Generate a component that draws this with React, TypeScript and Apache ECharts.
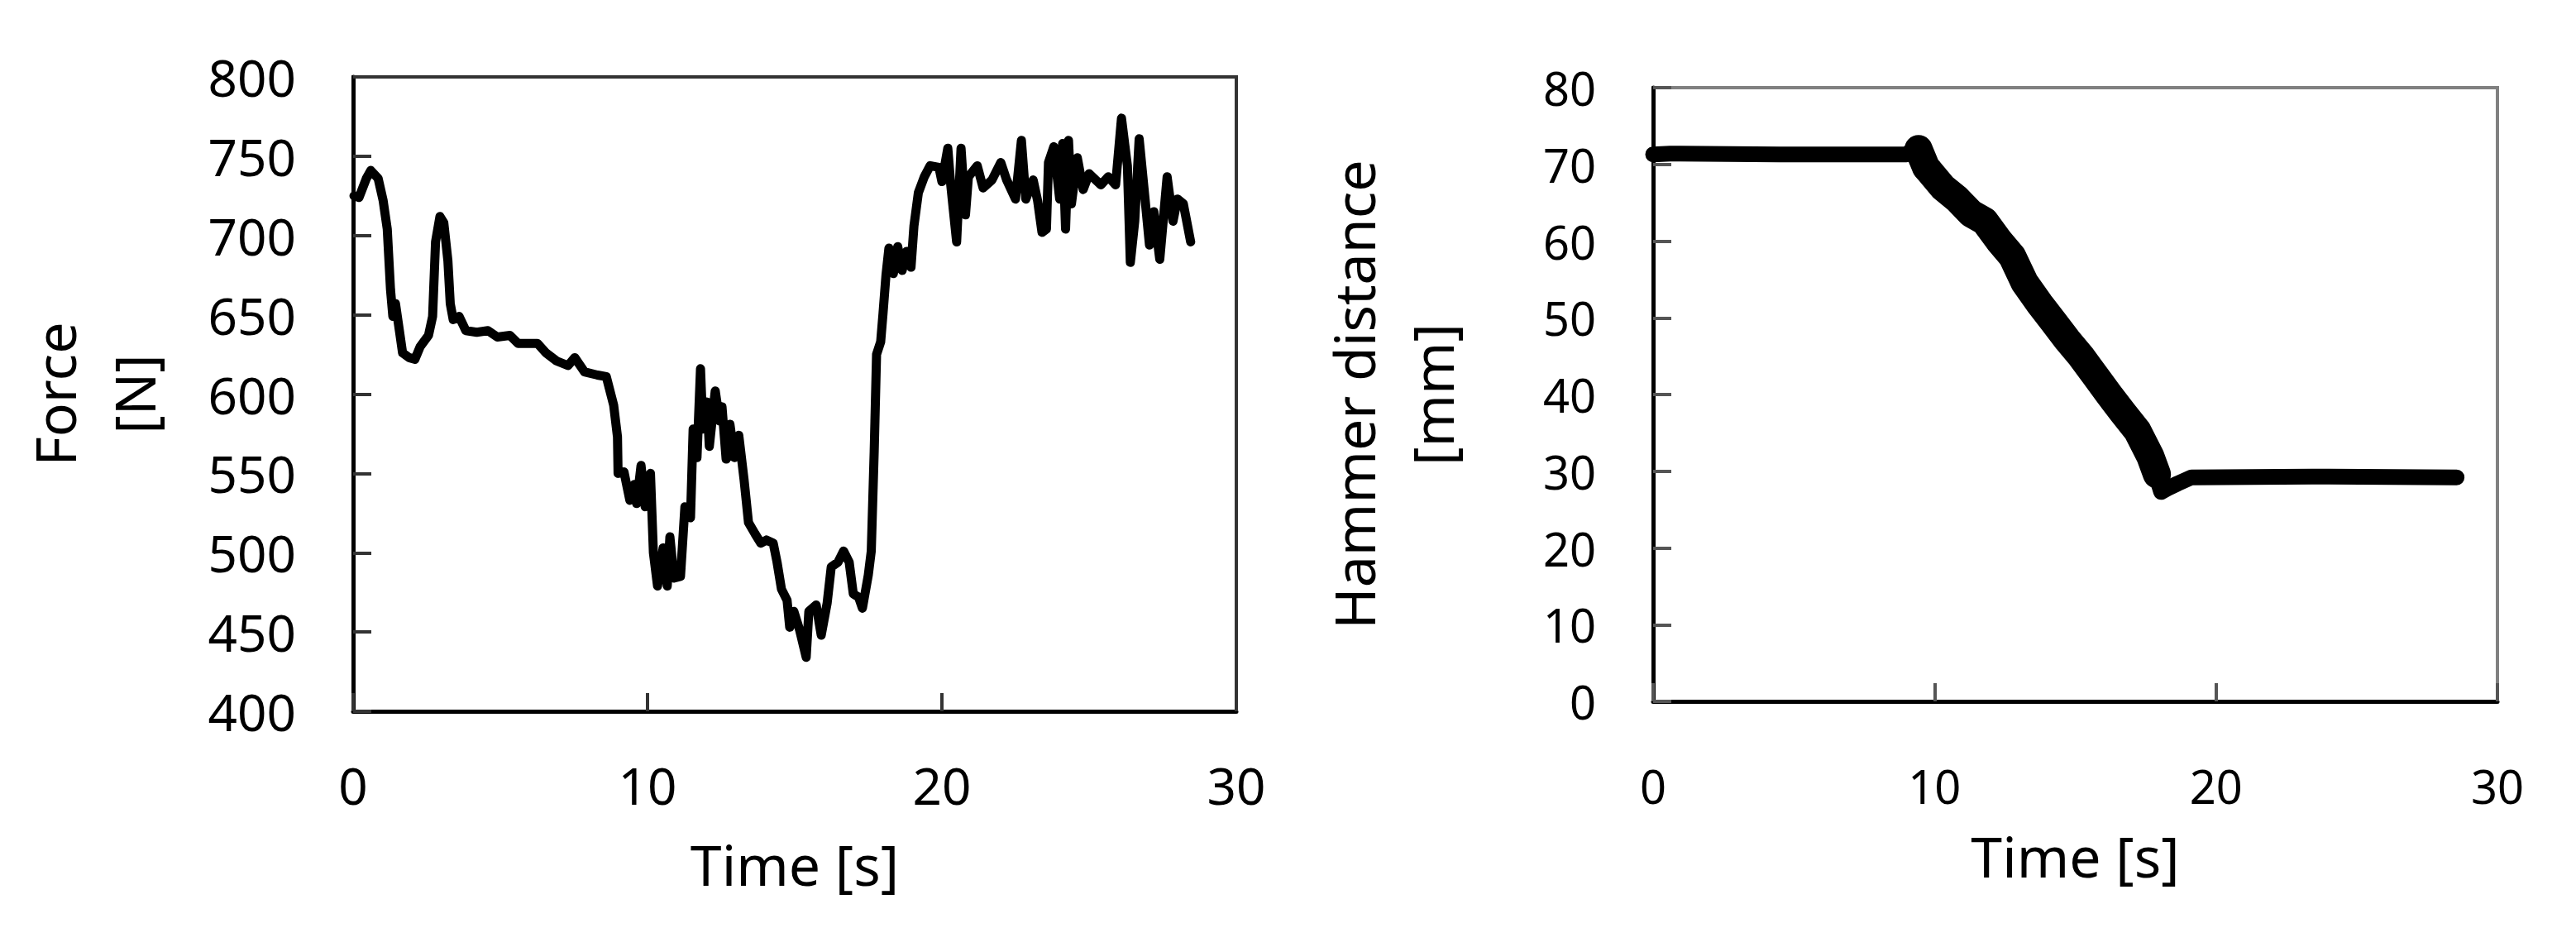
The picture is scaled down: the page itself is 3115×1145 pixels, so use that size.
import React, { useEffect, useRef } from 'react';
import * as echarts from 'echarts';

// Force [N] vs time [s] (left panel)
const forceTime = [
  0.03, 0.2, 0.45, 0.6, 0.85, 1.02, 1.16, 1.27, 1.35, 1.44, 1.58, 1.68, 1.9, 2.1, 2.28, 2.56, 2.7, 2.8, 2.95,
  3.08, 3.22, 3.3, 3.4, 3.6, 3.83, 4.2, 4.58, 4.9, 5.33, 5.6, 6.26, 6.55, 6.9, 7.3, 7.53, 7.86, 8.3, 8.6, 8.85,
  8.98, 9.0, 9.2, 9.4, 9.55, 9.63, 9.78, 9.92, 10.1, 10.2, 10.34, 10.53, 10.67, 10.76, 10.9, 11.12, 11.27, 11.46,
  11.55, 11.68, 11.8, 11.88, 12.02, 12.1, 12.3, 12.45, 12.53, 12.67, 12.8, 12.95, 13.1, 13.28, 13.43, 13.65,
  13.85, 14.04, 14.27, 14.4, 14.55, 14.74, 14.83, 14.97, 15.17, 15.39, 15.48, 15.73, 15.9, 16.1, 16.24, 16.47,
  16.66, 16.85, 16.99, 17.17, 17.3, 17.5, 17.6, 17.7, 17.78, 17.92, 18.0, 18.1, 18.2, 18.35, 18.5, 18.65, 18.8,
  18.95, 19.05, 19.2, 19.4, 19.6, 19.9, 20.0, 20.2, 20.3, 20.5, 20.65, 20.8, 20.9, 21.2, 21.4, 21.7, 22.0, 22.2,
  22.5, 22.7, 22.85, 23.1, 23.25, 23.4, 23.55, 23.62, 23.8, 24.0, 24.1, 24.2, 24.3, 24.4, 24.6, 24.8, 25.0, 25.4,
  25.65, 25.9, 26.1, 26.3, 26.4, 26.55, 26.7, 26.9, 27.05, 27.2, 27.4, 27.65, 27.85, 28.0, 28.2, 28.45,
];
const forceN = [
  725, 724, 736, 741, 736, 722, 704, 666, 649, 657, 639, 626, 623, 622, 630, 637, 649, 696, 712,
  708, 684, 657, 647, 649, 640, 639, 640, 636, 637, 632, 632, 626, 621, 618, 623, 614, 612, 611, 593,
  573, 550, 551, 533, 543, 531, 555, 529, 550, 500, 479, 503, 479, 510, 484, 485, 529, 522,
  578, 560, 616, 578, 595, 567, 602, 583, 592, 559, 581, 560, 574, 546, 519, 512,
  506, 508, 506, 494, 477, 470, 453, 463, 451, 434, 463, 467, 448, 468, 491, 494,
  501, 494, 474, 472, 465, 486, 501, 564, 625, 633, 651, 675, 692, 676, 693, 678, 690,
  680, 706, 727, 737, 744, 743, 734, 755, 732, 696, 755, 713, 737, 744, 730, 735, 746, 735,
  723, 760, 723, 735, 722, 702, 704, 746, 756, 723, 758, 704, 760, 720, 749, 729, 739, 732,
  737, 732, 774, 744, 683, 709, 761, 723, 694, 715, 685, 737, 709, 723, 720, 696,
];

// Hammer distance [mm] vs time [s] (right panel)
const distTime = [0, 0.6, 4.5, 9.0, 9.43, 9.82, 10.8, 11.78, 12.76, 13.74, 14.72, 15.7, 16.68, 17.66, 18.05, 18.3, 18.64, 19.13, 24.0, 28.55];
const distMm = [71.3, 71.4, 71.3, 71.3, 72.5, 69.1, 65.5, 62.6, 58.0, 51.8, 47.1, 42.5, 37.7, 32.0, 27.3, 27.8, 28.4, 29.2, 29.3, 29.2];

// noisy descending stretch, drawn thicker
const slopeTime = [9.43, 9.7, 9.82, 10.3, 10.8, 11.3, 11.78, 12.3, 12.76, 13.2, 13.74, 14.2, 14.72, 15.2, 15.7, 16.2, 16.68, 17.2, 17.66, 17.9];
const slopeMm = [72.0, 69.6, 69.1, 67.0, 65.5, 63.6, 62.6, 60.0, 58.0, 54.6, 51.8, 49.6, 47.1, 45.0, 42.5, 40.0, 37.7, 35.3, 32.0, 29.6];

const FONT = '"Noto Sans", sans-serif';

const pairs = (xs: number[], ys: number[]) => xs.map((x, i) => [x, ys[i]]);

const App: React.FC = () => {
  const chartRef = useRef<HTMLDivElement>(null);

  useEffect(() => {
    if (!chartRef.current) return;
    const chart = echarts.init(chartRef.current, undefined, { renderer: 'svg' });

    const xAxisBase = (gridIndex: number, fontSize: number, margin: number, nameGap: number, tickColor: string) => ({
      type: 'value',
      gridIndex,
      min: 0,
      max: 30,
      interval: 10,
      name: 'Time [s]',
      nameLocation: 'middle',
      nameGap,
      nameTextStyle: { fontFamily: FONT, fontSize: 68, color: '#000' },
      axisLine: { show: true, onZero: false, lineStyle: { color: '#000', width: 5 } },
      axisTick: { show: true, inside: true, length: 22, lineStyle: { color: tickColor, width: 4 } },
      axisLabel: { fontFamily: FONT, fontSize, color: '#000', margin },
      splitLine: { show: false },
    });

    const option = {
      animation: false,
      backgroundColor: '#fff',
      grid: [
        { left: 427, top: 93, width: 1068, height: 767, show: true, borderColor: '#333', borderWidth: 4 },
        { left: 1999, top: 106, width: 1021, height: 742, show: true, borderColor: '#808080', borderWidth: 4 },
      ],
      xAxis: [
        xAxisBase(0, 62, 58, 150, '#333'),
        xAxisBase(1, 56, 74, 152, '#555'),
      ],
      yAxis: [
        {
          type: 'value',
          gridIndex: 0,
          min: 400,
          max: 800,
          interval: 50,
          name: 'Force\n[N]',
          nameLocation: 'middle',
          nameGap: 218,
          nameTextStyle: { fontFamily: FONT, fontSize: 68, color: '#000', lineHeight: 96 },
          axisLine: { show: true, lineStyle: { color: '#000', width: 5 } },
          axisTick: { show: true, inside: true, length: 22, lineStyle: { color: '#333', width: 4 } },
          axisLabel: { fontFamily: FONT, fontSize: 62, color: '#000', margin: 69 },
          splitLine: { show: false },
        },
        {
          type: 'value',
          gridIndex: 1,
          min: 0,
          max: 80,
          interval: 10,
          name: 'Hammer distance\n[mm]',
          nameLocation: 'middle',
          nameGap: 220,
          nameTextStyle: { fontFamily: FONT, fontSize: 68, color: '#000', lineHeight: 95 },
          axisLine: { show: true, lineStyle: { color: '#000', width: 5 } },
          axisTick: { show: true, inside: true, length: 22, lineStyle: { color: '#555', width: 4 } },
          axisLabel: { fontFamily: FONT, fontSize: 56, color: '#000', margin: 69 },
          splitLine: { show: false },
        },
      ],
      series: [
        {
          type: 'line',
          xAxisIndex: 0,
          yAxisIndex: 0,
          data: pairs(forceTime, forceN),
          showSymbol: false,
          lineStyle: { color: '#000', width: 11, join: 'round', cap: 'round' },
        },
        {
          type: 'line',
          xAxisIndex: 1,
          yAxisIndex: 1,
          data: pairs(distTime, distMm),
          showSymbol: false,
          lineStyle: { color: '#000', width: 19, join: 'round', cap: 'round' },
        },
        {
          type: 'line',
          xAxisIndex: 1,
          yAxisIndex: 1,
          data: pairs(slopeTime, slopeMm),
          showSymbol: false,
          lineStyle: { color: '#000', width: 34, join: 'round', cap: 'round' },
        },
      ],
    };

    chart.setOption(option);
    return () => chart.dispose();
  }, []);

  return (
    <div
      ref={chartRef}
      style={{ position: 'absolute', left: 0, top: 0, width: '3115px', height: '1145px', background: '#fff' }}
    />
  );
};

export default App;
